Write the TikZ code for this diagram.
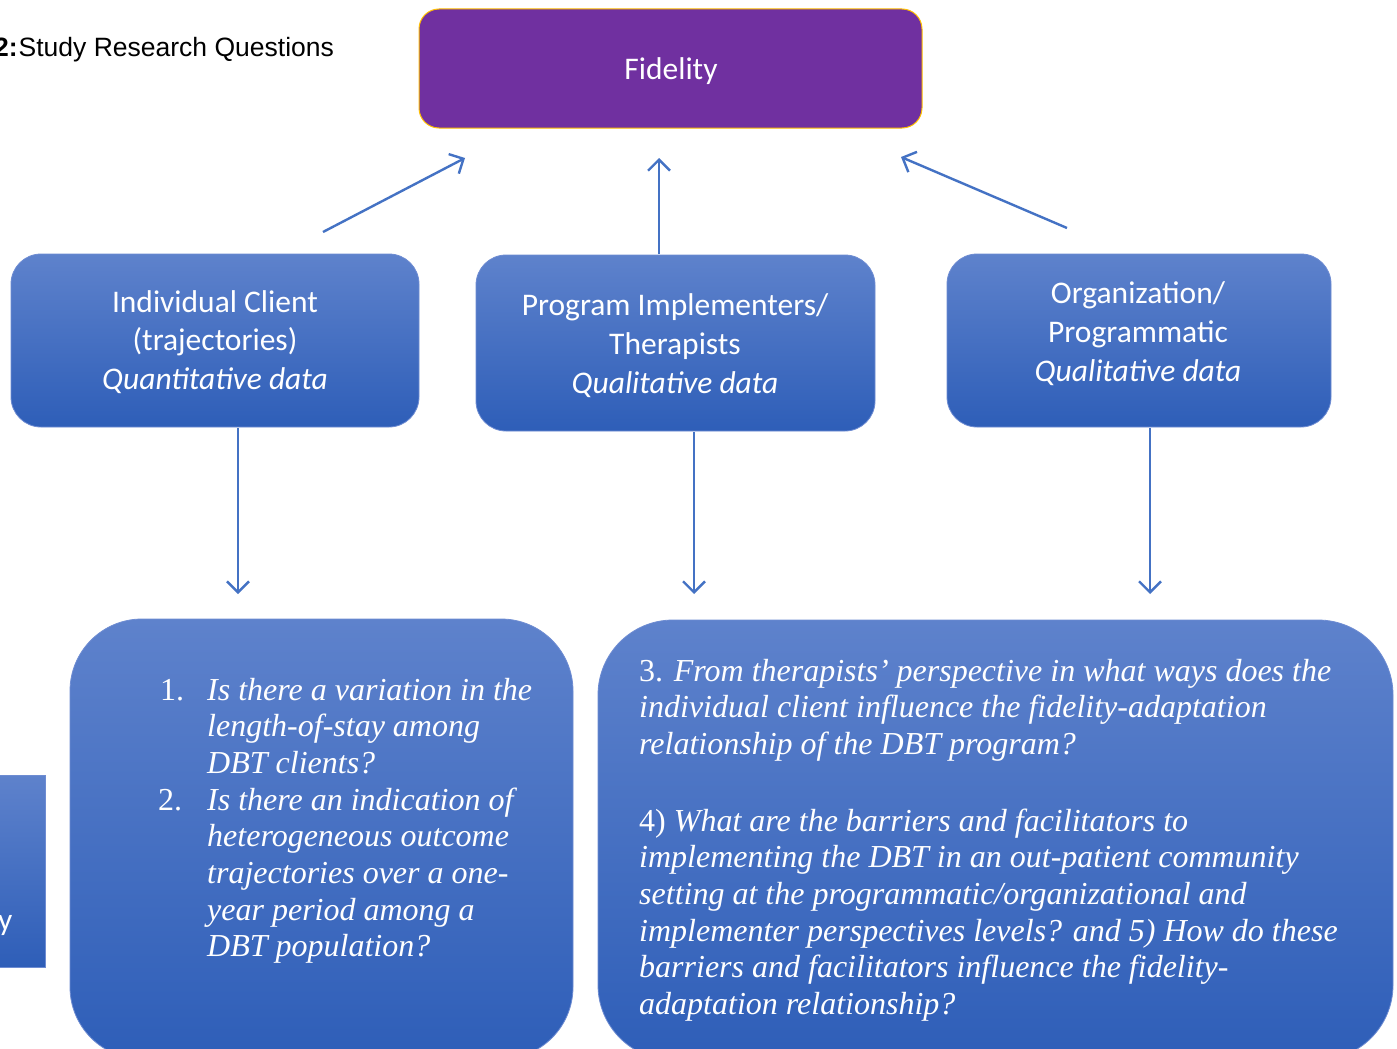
\documentclass[tikz,border=0pt]{standalone}
\usepackage{fontspec}
\setmainfont{Liberation Serif}
\newfontfamily\calfont{Carlito}
\newfontfamily\arialfont{Liberation Sans}
\usetikzlibrary{arrows.meta}
\definecolor{gtop}{RGB}{94,130,204}
\definecolor{gbot}{RGB}{46,94,184}
\definecolor{edgeblue}{RGB}{110,140,210}
\definecolor{arrowblue}{RGB}{68,114,196}
\definecolor{fidpurple}{RGB}{112,48,160}
\definecolor{fidgold}{RGB}{255,192,0}
\tikzset{
  bluebox/.style={draw=edgeblue, line width=0.8pt, top color=gtop, bottom color=gbot, inner sep=0pt},
  toptext/.style={text=white, font=\calfont\fontsize{31.5}{38.8}\selectfont, inner sep=0pt, anchor=base},
  qtext/.style={text=white, font=\fontsize{32}{36.7}\selectfont\itshape, inner sep=0pt, anchor=base west},
  qnum/.style={text=white, font=\fontsize{32}{36.7}\selectfont, inner sep=0pt, anchor=base west},
  conn/.style={draw=arrowblue, line width=2.4pt, -{Straight Barb[length=11pt,width=22pt,line width=2.4pt]}}
}
\begin{document}
\begin{tikzpicture}[x=1pt,y=-1pt]
\useasboundingbox (0,0) rectangle (1397,1049);
\clip (0,0) rectangle (1397,1049);
\fill[white] (0,0) rectangle (1397,1049);

% title
\node[anchor=base east, inner sep=0pt, font=\arialfont\bfseries\fontsize{26.5}{30}\selectfont] (titlenum) at (18,57) {2:};
\node[anchor=base west, inner sep=0pt, font=\arialfont\fontsize{26.5}{30}\selectfont] (title) at (18.5,57) {Study Research Questions};

% fidelity
\node[draw=fidgold, fill=fidpurple, line width=1pt, rounded corners=20pt, minimum width=503pt, minimum height=119pt, inner sep=0pt] (fid) at (670.5,68.5) {};
\node[anchor=base, inner sep=0pt, text=white, font=\calfont\fontsize{31.5}{38}\selectfont] (fidtext) at (671,79) {Fidelity};

% three mid boxes
\node[bluebox, rounded corners=30pt, minimum width=408pt, minimum height=173pt] (ic) at (215,340.5) {};
\node[bluebox, rounded corners=30pt, minimum width=399pt, minimum height=176pt] (pi) at (675.5,343) {};
\node[bluebox, rounded corners=30pt, minimum width=384pt, minimum height=173pt] (org) at (1139,340.5) {};

\node[toptext] (ict1) at (215,312) {Individual Client};
\node[toptext] (ict2) at (215,350.5) {(trajectories)};
\node[toptext] (ict3) at (215,389) {\itshape Quantitative data};

\node[toptext] (pit1) at (675,315) {Program Implementers/};
\node[toptext] (pit2) at (675,354) {Therapists};
\node[toptext] (pit3) at (675,393) {\itshape Qualitative data};

\node[toptext] (ort1) at (1138,303) {Organization/};
\node[toptext] (ort2) at (1138,342) {Programmatic};
\node[toptext] (ort3) at (1138,381) {\itshape Qualitative data};

% bottom boxes
\node[bluebox, rounded corners=72pt, minimum width=503pt, minimum height=440pt] (ql) at (321.5,839) {};
\node[bluebox, rounded corners=75pt, minimum width=795pt, minimum height=440pt] (qr) at (995.5,840) {};

% cut-off box on the left
\node[bluebox, minimum width=60pt, minimum height=192pt] (cut) at (15,871) {};
\node[anchor=base west, inner sep=0pt, text=white, font=\calfont\fontsize{31.5}{38}\selectfont] (cutt) at (-2,930) {y};

% left questions
\node[qnum] (n1) at (160,700) {1.};
\node[qtext] (q1a) at (207,700) {Is there a variation in the};
\node[qtext] (q1b) at (207,736.7) {length-of-stay among};
\node[qtext] (q1c) at (207,773.4) {DBT clients?};
\node[qnum] (n2) at (158,810.1) {2.};
\node[qtext] (q2a) at (207,810.1) {Is there an indication of};
\node[qtext] (q2b) at (207,846.8) {heterogeneous outcome};
\node[qtext] (q2c) at (207,883.5) {trajectories over a one-};
\node[qtext] (q2d) at (207,920.2) {year period among a};
\node[qtext] (q2e) at (207,956.9) {DBT population?};

% right questions
\node[qtext] (q3a) at (639,681) {\upshape 3. \itshape From therapists’ perspective in what ways does the};
\node[qtext] (q3b) at (639,717.7) {individual client influence the fidelity-adaptation};
\node[qtext] (q3c) at (639,754.4) {relationship of the DBT program?};
\node[qtext] (q4a) at (639,831) {\upshape 4) \itshape What are the barriers and facilitators to};
\node[qtext] (q4b) at (639,867.7) {implementing the DBT in an out-patient community};
\node[qtext] (q4c) at (639,904.4) {setting at the programmatic/organizational and};
\node[qtext] (q4d) at (639,941.1) {implementer perspectives levels? and 5) How do these};
\node[qtext] (q4e) at (639,977.8) {barriers and facilitators influence the fidelity-};
\node[qtext] (q4f) at (639,1014.5) {adaptation relationship?};

% connector coordinates
\coordinate (a1s) at (323,232);
\coordinate (a1e) at (465,158);
\coordinate (a2s) at (659,254);
\coordinate (a2e) at (659,158);
\coordinate (a3s) at (1067,228);
\coordinate (a3e) at (901,157);
\coordinate (d1s) at (238,428);
\coordinate (d1e) at (238,594);
\coordinate (d2s) at (694,432);
\coordinate (d2e) at (694,594);
\coordinate (d3s) at (1150,428);
\coordinate (d3e) at (1150,594);

\draw[conn] (a1s) -- (a1e);
\draw[conn] (a2s) -- (a2e);
\draw[conn] (a3s) -- (a3e);
\draw[conn] (d1s) -- (d1e);
\draw[conn] (d2s) -- (d2e);
\draw[conn] (d3s) -- (d3e);
\end{tikzpicture}
\end{document}
